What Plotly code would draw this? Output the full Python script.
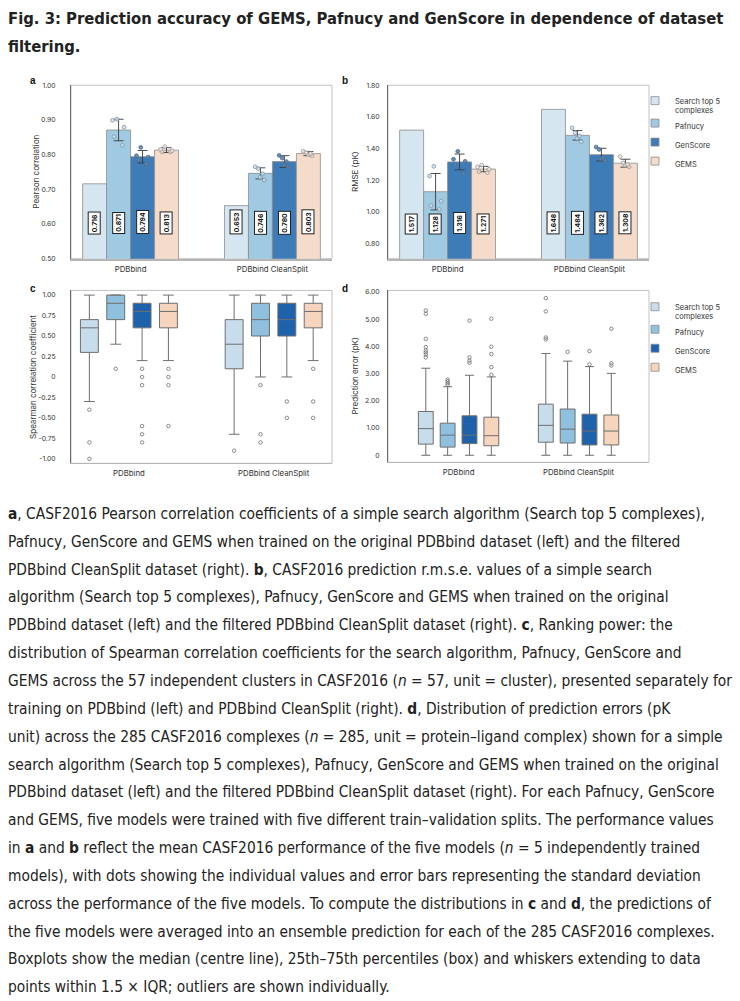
import plotly.graph_objects as go

# ---------------- data ----------------
categories = ["PDBbind", "PDBbind CleanSplit"]
methods = ["Search top 5 complexes", "Pafnucy", "GenScore", "GEMS"]
legend_names = ["Search top 5<br>complexes", "Pafnucy", "GenScore", "GEMS"]

# panel a: Pearson correlation (rows = methods, columns = categories)
pearson_mean = [[0.716, 0.653], [0.871, 0.746], [0.794, 0.780], [0.813, 0.803]]
pearson_sd = [None, [0.031, 0.016], [0.018, 0.017], [0.007, 0.006]]
pearson_runs = [
    None,
    [[0.902, 0.899, 0.879, 0.852, 0.827], [0.765, 0.760, 0.745, 0.735, 0.727]],
    [[0.821, 0.797, 0.793, 0.785, 0.774], [0.798, 0.790, 0.780, 0.770, 0.762]],
    [[0.823, 0.815, 0.811, 0.808, 0.808], [0.810, 0.806, 0.803, 0.800, 0.796]],
]

# panel b: RMSE (pK)
rmse_mean = [[1.517, 1.648], [1.128, 1.484], [1.316, 1.362], [1.271, 1.308]]
rmse_sd = [None, [0.115, 0.030], [0.050, 0.040], [0.017, 0.025]]
rmse_runs = [
    None,
    [[1.288, 1.227, 1.069, 1.040, 1.016], [1.531, 1.500, 1.480, 1.465, 1.444]],
    [[1.383, 1.333, 1.320, 1.300, 1.244], [1.410, 1.395, 1.345, 1.335, 1.325]],
    [[1.297, 1.285, 1.270, 1.255, 1.248], [1.350, 1.310, 1.300, 1.295, 1.285]],
]

# panel c: Spearman correlation coefficient box statistics
spear_q1 = [[0.30, 0.10], [0.70, 0.50], [0.60, 0.50], [0.60, 0.60]]
spear_med = [[0.60, 0.40], [0.90, 0.70], [0.80, 0.70], [0.80, 0.80]]
spear_q3 = [[0.70, 0.70], [1.00, 0.90], [0.90, 0.90], [0.90, 0.90]]
spear_lo = [[-0.30, -0.70], [0.40, 0.00], [0.20, 0.00], [0.20, 0.20]]
spear_hi = [[1.00, 1.00], [1.00, 1.00], [1.00, 1.00], [1.00, 1.00]]
spear_out = [
    [[-0.40, -0.80, -1.00], [-0.90]],
    [[0.10], [-0.10, -0.70, -0.80]],
    [[0.10, 0.00, -0.10, -0.60, -0.70, -0.80], [-0.30, -0.50]],
    [[0.10, 0.00, -0.10, -0.60], [0.10, -0.30, -0.50]],
]

# panel d: prediction error (pK) box statistics
err_q1 = [[0.41, 0.48], [0.30, 0.45], [0.43, 0.38], [0.35, 0.38]]
err_med = [[0.98, 1.10], [0.74, 0.96], [0.74, 0.89], [0.72, 0.89]]
err_q3 = [[1.61, 1.88], [1.18, 1.70], [1.45, 1.51], [1.40, 1.48]]
err_lo = [[0.0, 0.0], [0.0, 0.0], [0.0, 0.0], [0.0, 0.0]]
err_hi = [[3.20, 3.74], [2.52, 3.46], [2.94, 3.26], [2.88, 3.01]]
err_out = [
    [[5.32, 5.20, 4.28, 3.98, 3.85, 3.78, 3.70, 3.60], [5.78, 5.29, 4.33, 4.26]],
    [[2.78, 2.72, 2.65, 2.58], [3.80]],
    [[4.95, 3.60, 3.48, 3.40], [3.83, 3.34]],
    [[5.02, 3.99, 3.72, 3.24, 2.96], [4.65, 3.38, 3.30]],
]

pearson_ticks = [0.5, 0.6, 0.7, 0.8, 0.9, 1.0]
pearson_ticktext = ["0.50", "0.60", "0.70", "0.80", "0.90", "1.00"]
rmse_ticks = [0.8, 1.0, 1.2, 1.4, 1.6, 1.8]
rmse_ticktext = ["0.80", "1.00", "1.20", "1.40", "1.60", "1.80"]
spear_ticks = [-1.0, -0.75, -0.5, -0.25, 0.0, 0.25, 0.5, 0.75, 1.0]
spear_ticktext = ["-1.00", "-0.75", "-0.50", "-0.25", "0", "0.25", "0.50", "0.75", "1.00"]
err_ticks = [0, 1, 2, 3, 4, 5, 6]
err_ticktext = ["0", "1.00", "2.00", "3.00", "4.00", "5.00", "6.00"]

title_lines = [
    "Fig. 3: Prediction accuracy of GEMS, Pafnucy and GenScore in dependence of dataset",
    "filtering.",
]
caption_lines = [
    "<b>a</b>, CASF2016 Pearson correlation coefficients of a simple search algorithm (Search top 5 complexes),",
    "Pafnucy, GenScore and GEMS when trained on the original PDBbind dataset (left) and the filtered",
    "PDBbind CleanSplit dataset (right). <b>b</b>, CASF2016 prediction r.m.s.e. values of a simple search",
    "algorithm (Search top 5 complexes), Pafnucy, GenScore and GEMS when trained on the original",
    "PDBbind dataset (left) and the filtered PDBbind CleanSplit dataset (right). <b>c</b>, Ranking power: the",
    "distribution of Spearman correlation coefficients for the search algorithm, Pafnucy, GenScore and",
    "GEMS across the 57 independent clusters in CASF2016 (<i>n</i> = 57, unit = cluster), presented separately for",
    "training on PDBbind (left) and PDBbind CleanSplit (right). <b>d</b>, Distribution of prediction errors (pK",
    "unit) across the 285 CASF2016 complexes (<i>n</i> = 285, unit = protein\u2013ligand complex) shown for a simple",
    "search algorithm (Search top 5 complexes), Pafnucy, GenScore and GEMS when trained on the original",
    "PDBbind dataset (left) and the filtered PDBbind CleanSplit dataset (right). For each Pafnucy, GenScore",
    "and GEMS, five models were trained with five different train\u2013validation splits. The performance values",
    "in <b>a</b> and <b>b</b> reflect the mean CASF2016 performance of the five models (<i>n</i> = 5 independently trained",
    "models), with dots showing the individual values and error bars representing the standard deviation",
    "across the performance of the five models. To compute the distributions in <b>c</b> and <b>d</b>, the predictions of",
    "the five models were averaged into an ensemble prediction for each of the 285 CASF2016 complexes.",
    "Boxplots show the median (centre line), 25th\u201375th percentiles (box) and whiskers extending to data",
    "points within 1.5 \u00d7 IQR; outliers are shown individually.",
]

# ---------------- style / layout ----------------
W, H = 740, 1001
FONT = "Inter, Roboto, 'DejaVu Sans', sans-serif"
CAPFONT = "'DejaVu Sans Condensed', 'Liberation Sans', sans-serif"
bar_colors = ["#d5e6f0", "#9fcae2", "#3e7cb8", "#f5dbca"]
box_colors = ["#c8ddec", "#8fc0de", "#1f62ac", "#f6d4bd"]
dot_fill = ["rgba(0,0,0,0)", "rgba(205,222,235,0.8)", "rgba(95,130,170,0.9)", "rgba(240,228,220,0.8)"]
dot_line = ["rgba(0,0,0,0)", "#7f95a8", "#4d6f92", "#9a9a9a"]
BARGAP = 0.324
BOXGAP = 0.272
BOXGROUPGAP = 0.32


def px_x(p):
    return p / W


def px_y(p):
    return 1 - p / H


panels = {
    "a": dict(x=(71, 332), y=(81, 256), xa="x", ya="y"),
    "b": dict(x=(388, 649), y=(81, 256), xa="x2", ya="y2"),
    "c": dict(x=(71, 332), y=(288, 462.5), xa="x3", ya="y3"),
    "d": dict(x=(388, 649), y=(288, 461.5), xa="x4", ya="y4"),
}

fig = go.Figure()


def add_bar_panel(xa, ya, means, sds, runs, align):
    for j in range(4):
        err = None
        if sds[j] is not None:
            err = dict(type="data", array=sds[j], color="#3a3a3a", thickness=0.9, width=5)
        fig.add_trace(go.Bar(
            x=categories, y=means[j], name=methods[j],
            marker=dict(color=bar_colors[j], line=dict(color="#8d8d8d", width=0.8)),
            error_y=err, offsetgroup=str(j), alignmentgroup=align,
            xaxis=xa, yaxis=ya, showlegend=False, hoverinfo="skip"))
    for j in range(4):
        if runs[j] is None:
            xs, ys, pts = categories, means[j], False
        else:
            xs = [c for c, r in zip(categories, runs[j]) for _ in r]
            ys = [v for r in runs[j] for v in r]
            pts = "all"
        fig.add_trace(go.Violin(
            x=xs, y=ys, points=pts, pointpos=0, jitter=0.6, bandwidth=0.01,
            line=dict(width=0), fillcolor="rgba(0,0,0,0)",
            marker=dict(size=3.8, color=dot_fill[j], line=dict(color=dot_line[j], width=0.8)),
            offsetgroup=str(j), alignmentgroup=align + "v",
            xaxis=xa, yaxis=ya, showlegend=False, hoverinfo="skip"))


def add_box_panel(xa, ya, q1, med, q3, lo, hi, out, align):
    for j in range(4):
        fig.add_trace(go.Box(
            x=categories, q1=q1[j], median=med[j], q3=q3[j],
            lowerfence=lo[j], upperfence=hi[j], y=out[j],
            orientation="v", boxpoints="outliers", whiskerwidth=0.6,
            fillcolor=box_colors[j], line=dict(color="#6e6e6e", width=1),
            marker=dict(symbol="circle-open", size=3.5, color="#6e6e6e", line=dict(width=0.8)),
            offsetgroup=str(j), alignmentgroup=align, name=methods[j],
            xaxis=xa, yaxis=ya, showlegend=False, hoverinfo="skip"))


add_bar_panel("x", "y", pearson_mean, pearson_sd, pearson_runs, "a")
add_bar_panel("x2", "y2", rmse_mean, rmse_sd, rmse_runs, "b")
add_box_panel("x3", "y3", spear_q1, spear_med, spear_q3, spear_lo, spear_hi, spear_out, "c")
add_box_panel("x4", "y4", err_q1, err_med, err_q3, err_lo, err_hi, err_out, "d")

# legend entries (square swatches)
for leg, xa, ya, cols in [("legend", "x2", "y2", bar_colors), ("legend2", "x4", "y4", box_colors)]:
    for j in range(4):
        fig.add_trace(go.Scatter(
            x=[None], y=[None], mode="markers", name=legend_names[j],
            marker=dict(symbol="square", size=8, color=cols[j], line=dict(color="#8d8d8d", width=0.8)),
            legend=leg, xaxis=xa, yaxis=ya, showlegend=True))

tickfont = dict(family=FONT, size=6.8, color="#333")
catfont = dict(family=FONT, size=7.8, color="#333")

axes = {}
yspecs = {
    "a": (pearson_ticks, pearson_ticktext, [0.5, 1.0], 13),
    "b": (rmse_ticks, rmse_ticktext, [0.705, 1.80], 6),
    "c": (spear_ticks, spear_ticktext, [-1.055, 1.057], 13),
    "d": (err_ticks, err_ticktext, [-0.26, 6.06], 6),
}
xranges = {"a": [-0.42, 1.42], "b": [-0.42, 1.42], "c": [-0.40, 1.403], "d": [-0.588, 1.587]}
shapes = []
for k, p in panels.items():
    xname = "xaxis" + p["xa"][1:]
    yname = "yaxis" + p["ya"][1:]
    tv, tt, yr, stand = yspecs[k]
    axes[xname] = dict(
        domain=[px_x(p["x"][0]), px_x(p["x"][1])], anchor=p["ya"], type="category",
        categoryorder="array", categoryarray=categories, range=xranges[k],
        showline=True, linecolor="#b5b5b5", linewidth=1.5 if k in "ab" else 1,
        showgrid=False, zeroline=False, ticks="", tickfont=catfont, ticklabelstandoff=2,
        fixedrange=True)
    axes[yname] = dict(
        domain=[px_y(p["y"][1]), px_y(p["y"][0])], anchor=p["xa"], range=yr,
        tickmode="array", tickvals=tv, ticktext=tt, tickfont=tickfont,
        ticks="", ticklabelstandoff=stand, showline=True, linecolor="#6a6a6a", linewidth=1,
        showgrid=False, zeroline=False, fixedrange=True)
    shapes.append(dict(type="rect", xref=p["xa"] + " domain", yref=p["ya"] + " domain",
                       x0=0, x1=1, y0=0, y1=1, line=dict(color="#c2c2c2", width=1), layer="below"))

annotations = []
# bar value labels
slot = (1 - BARGAP) / 4
for xa, ya, means in [("x", "y", pearson_mean), ("x2", "y2", rmse_mean)]:
    for j in range(4):
        for i in range(len(categories)):
            annotations.append(dict(
                x=i + (j - 1.5) * slot, y=0.14, xref=xa, yref=ya + " domain",
                text="<b>%.3f</b>" % means[j][i], textangle=-90, showarrow=False,
                font=dict(family=FONT, size=6.8, color="#111"),
                bgcolor="white", bordercolor="#222", borderwidth=1, borderpad=1.2))

# panel letters
for letter, (lx, ly) in {"a": (33, 76), "b": (345, 76), "c": (33, 286), "d": (345, 286)}.items():
    annotations.append(dict(x=px_x(lx), y=px_y(ly), xref="paper", yref="paper", text="<b>%s</b>" % letter,
                            showarrow=False, xanchor="center", yanchor="middle",
                            font=dict(family="Arial, 'Liberation Sans', sans-serif", size=10, color="#111")))

# y axis titles
ytitles = {"a": ("Pearson correlation", 35.7), "b": ("RMSE (pK)", 355),
           "c": ("Spearman correlation coefficient", 33), "d": ("Prediction error (pK)", 355)}
for k, (txt, tx) in ytitles.items():
    p = panels[k]
    annotations.append(dict(x=px_x(tx), y=px_y((p["y"][0] + p["y"][1]) / 2), xref="paper", yref="paper",
                            text=txt, textangle=-90, showarrow=False, xanchor="center", yanchor="middle",
                            font=dict(family=FONT, size=8, color="#333")))

# title
for n, line in enumerate(title_lines):
    annotations.append(dict(x=px_x(6), y=px_y(14 + 27.5 * n), xref="paper", yref="paper",
                            text="<b>%s</b>" % line, showarrow=False, xanchor="left", yanchor="middle",
                            font=dict(family=CAPFONT, size=16.5, color="#222")))
# caption
for n, line in enumerate(caption_lines):
    annotations.append(dict(x=px_x(6), y=px_y(513.5 + 28.1 * n), xref="paper", yref="paper",
                            text=line, showarrow=False, xanchor="left", yanchor="middle",
                            font=dict(family=CAPFONT, size=15.35, color="#222")))

legend_style = dict(xanchor="left", yanchor="top", bgcolor="rgba(0,0,0,0)", valign="top",
                    font=dict(family=FONT, size=7.5, color="#333"), itemwidth=30, tracegroupgap=0)

fig.update_layout(
    width=W, height=H, margin=dict(l=0, r=0, t=0, b=0),
    paper_bgcolor="white", plot_bgcolor="white",
    barmode="group", bargap=BARGAP, bargroupgap=0,
    violinmode="group", violingap=BARGAP, violingroupgap=0,
    boxmode="group", boxgap=BOXGAP, boxgroupgap=BOXGROUPGAP,
    legend=dict(x=px_x(635), y=px_y(85), **legend_style),
    legend2=dict(x=px_x(635), y=px_y(293), **legend_style),
    shapes=shapes, annotations=annotations,
    hovermode=False,
    **axes,
)

fig.write_html("out.html", config={"displayModeBar": False},
               post_script="document.body.style.margin='0';document.body.style.overflow='hidden';")
